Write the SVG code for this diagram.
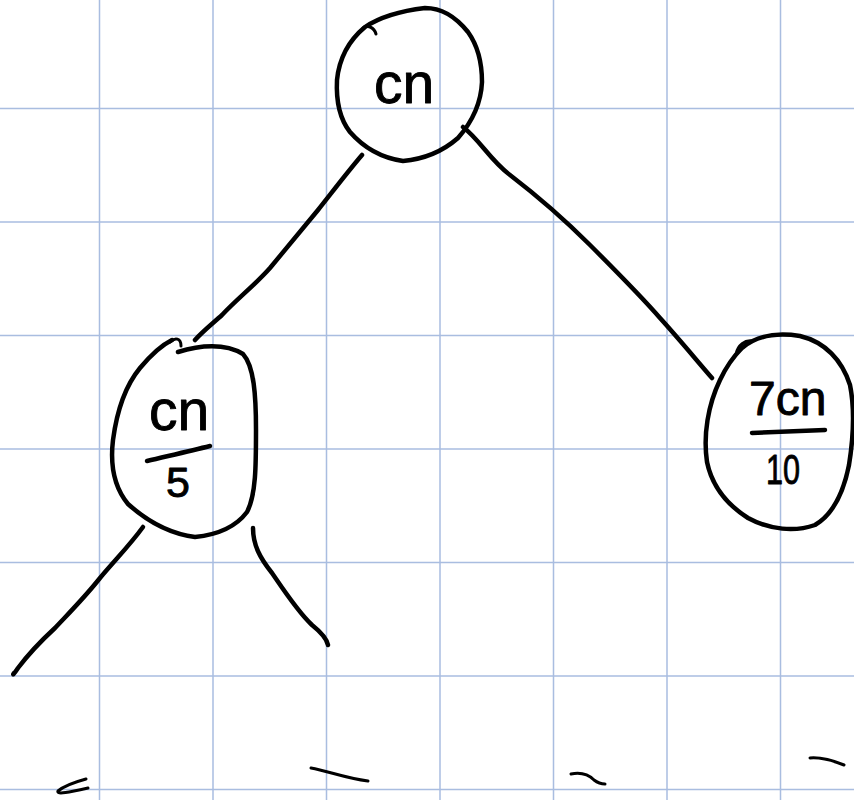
<svg xmlns="http://www.w3.org/2000/svg" width="854" height="800" viewBox="0 0 854 800">
  <defs>
    <style>
      .grid line { stroke: #a9bde0; stroke-width: 1.5; }
      .ink { fill: none; stroke: #000; stroke-width: 4.5; stroke-linecap: round; stroke-linejoin: round; }
      .thin { fill: none; stroke: #000; stroke-width: 3; stroke-linecap: round; stroke-linejoin: round; }
      .label { font-family: "Liberation Sans", "DejaVu Sans", sans-serif; fill: #000; stroke: #000; stroke-width: 0.9; stroke-linejoin: round; }
    </style>
  </defs>
  <rect width="854" height="800" fill="#ffffff"/>

  <!-- squared paper -->
  <g class="grid">
    <line x1="99.5" y1="0" x2="99.5" y2="800"/>
    <line x1="213" y1="0" x2="213" y2="800"/>
    <line x1="326.5" y1="0" x2="326.5" y2="800"/>
    <line x1="440" y1="0" x2="440" y2="800"/>
    <line x1="553.5" y1="0" x2="553.5" y2="800"/>
    <line x1="667" y1="0" x2="667" y2="800"/>
    <line x1="780.5" y1="0" x2="780.5" y2="800"/>
    <line x1="0" y1="108.5" x2="854" y2="108.5"/>
    <line x1="0" y1="222" x2="854" y2="222"/>
    <line x1="0" y1="335.5" x2="854" y2="335.5"/>
    <line x1="0" y1="449" x2="854" y2="449"/>
    <line x1="0" y1="562.5" x2="854" y2="562.5"/>
    <line x1="0" y1="676" x2="854" y2="676"/>
    <line x1="0" y1="789.5" x2="854" y2="789.5"/>
  </g>

  <!-- tree edges -->
  <g id="edges">
    <path class="ink" d="M362,155 C345,175 330,195 318,210 C300,232 285,250 270,268 C255,285 238,298 222,315 C212,324 202,332 195,340"/>
    <path class="ink" d="M463,127 C480,140 490,160 510,175 C540,198 570,225 590,245 C615,270 640,295 660,318 C680,340 698,362 712,378"/>
    <path class="ink" d="M143,527 C130,545 115,560 100,578 C85,597 70,612 55,628 C42,640 30,652 18,668 C14,674 12,676 14,673"/>
    <path class="ink" d="M253,528 C253,545 260,558 272,573 C285,592 298,612 312,625 C322,633 327,640 328,645"/>
  </g>

  <!-- root node -->
  <g id="node-root">
    <path class="ink" d="M365,27 C380,17 400,11 425,8 C442,8 455,16 468,32 C478,46 482,62 482,82 C481,105 472,122 458,138 C442,152 425,159 403,161 C382,158 364,148 350,132 C339,118 336,100 337,80 C339,60 347,42 365,27 Z"/>
    <path class="thin" d="M363,28 C368,25 374,27 376,34"/>
    <text class="label" x="374" y="103" font-size="57">cn</text>
  </g>

  <!-- left child -->
  <g id="node-left">
    <path class="ink" d="M178,352 C200,345 225,343 243,354 C254,366 256,395 256,430 C256,465 256,495 247,512 C235,528 215,535 195,537 C172,534 148,522 128,504 C114,487 110,465 113,440 C117,410 126,385 140,368 C150,356 160,346 172,340"/>
    <path class="thin" d="M170,342 C175,337 181,338 181,346"/>
    <text class="label" x="149" y="430" font-size="57">cn</text>
    <path class="ink" d="M147,461 C168,456 190,451 210,446"/>
    <text class="label" x="166" y="497" font-size="43">5</text>
  </g>

  <!-- right child -->
  <g id="node-right">
    <path class="ink" d="M742,348 C755,337 775,332 800,336 C825,342 842,360 850,385 C855,410 853,440 849,465 C843,495 832,515 815,525 C795,532 770,530 748,518 C726,504 712,486 707,462 C703,435 708,405 720,380 C727,365 734,356 742,348 Z"/>
    <path class="thin" d="M736,354 C738,345 745,340 752,341"/>
    <text class="label" x="749" y="415" font-size="48">7cn</text>
    <path class="ink" d="M752,433 C775,432 800,431 825,430"/>
    <text class="label" x="766" y="484" font-size="43" textLength="34" lengthAdjust="spacingAndGlyphs">10</text>
  </g>

  <!-- loose strokes along the bottom -->
  <g id="marks">
    <path class="thin" d="M86,779 C75,782 64,786 58,791 C56,795 70,792 88,788"/>
    <path class="thin" d="M311,768 C328,771 345,778 368,781"/>
    <path class="thin" d="M571,774 C581,772 589,775 594,780 C598,783 602,784 605,784"/>
    <path class="thin" d="M810,758 C822,757 834,761 844,765"/>
  </g>
</svg>
